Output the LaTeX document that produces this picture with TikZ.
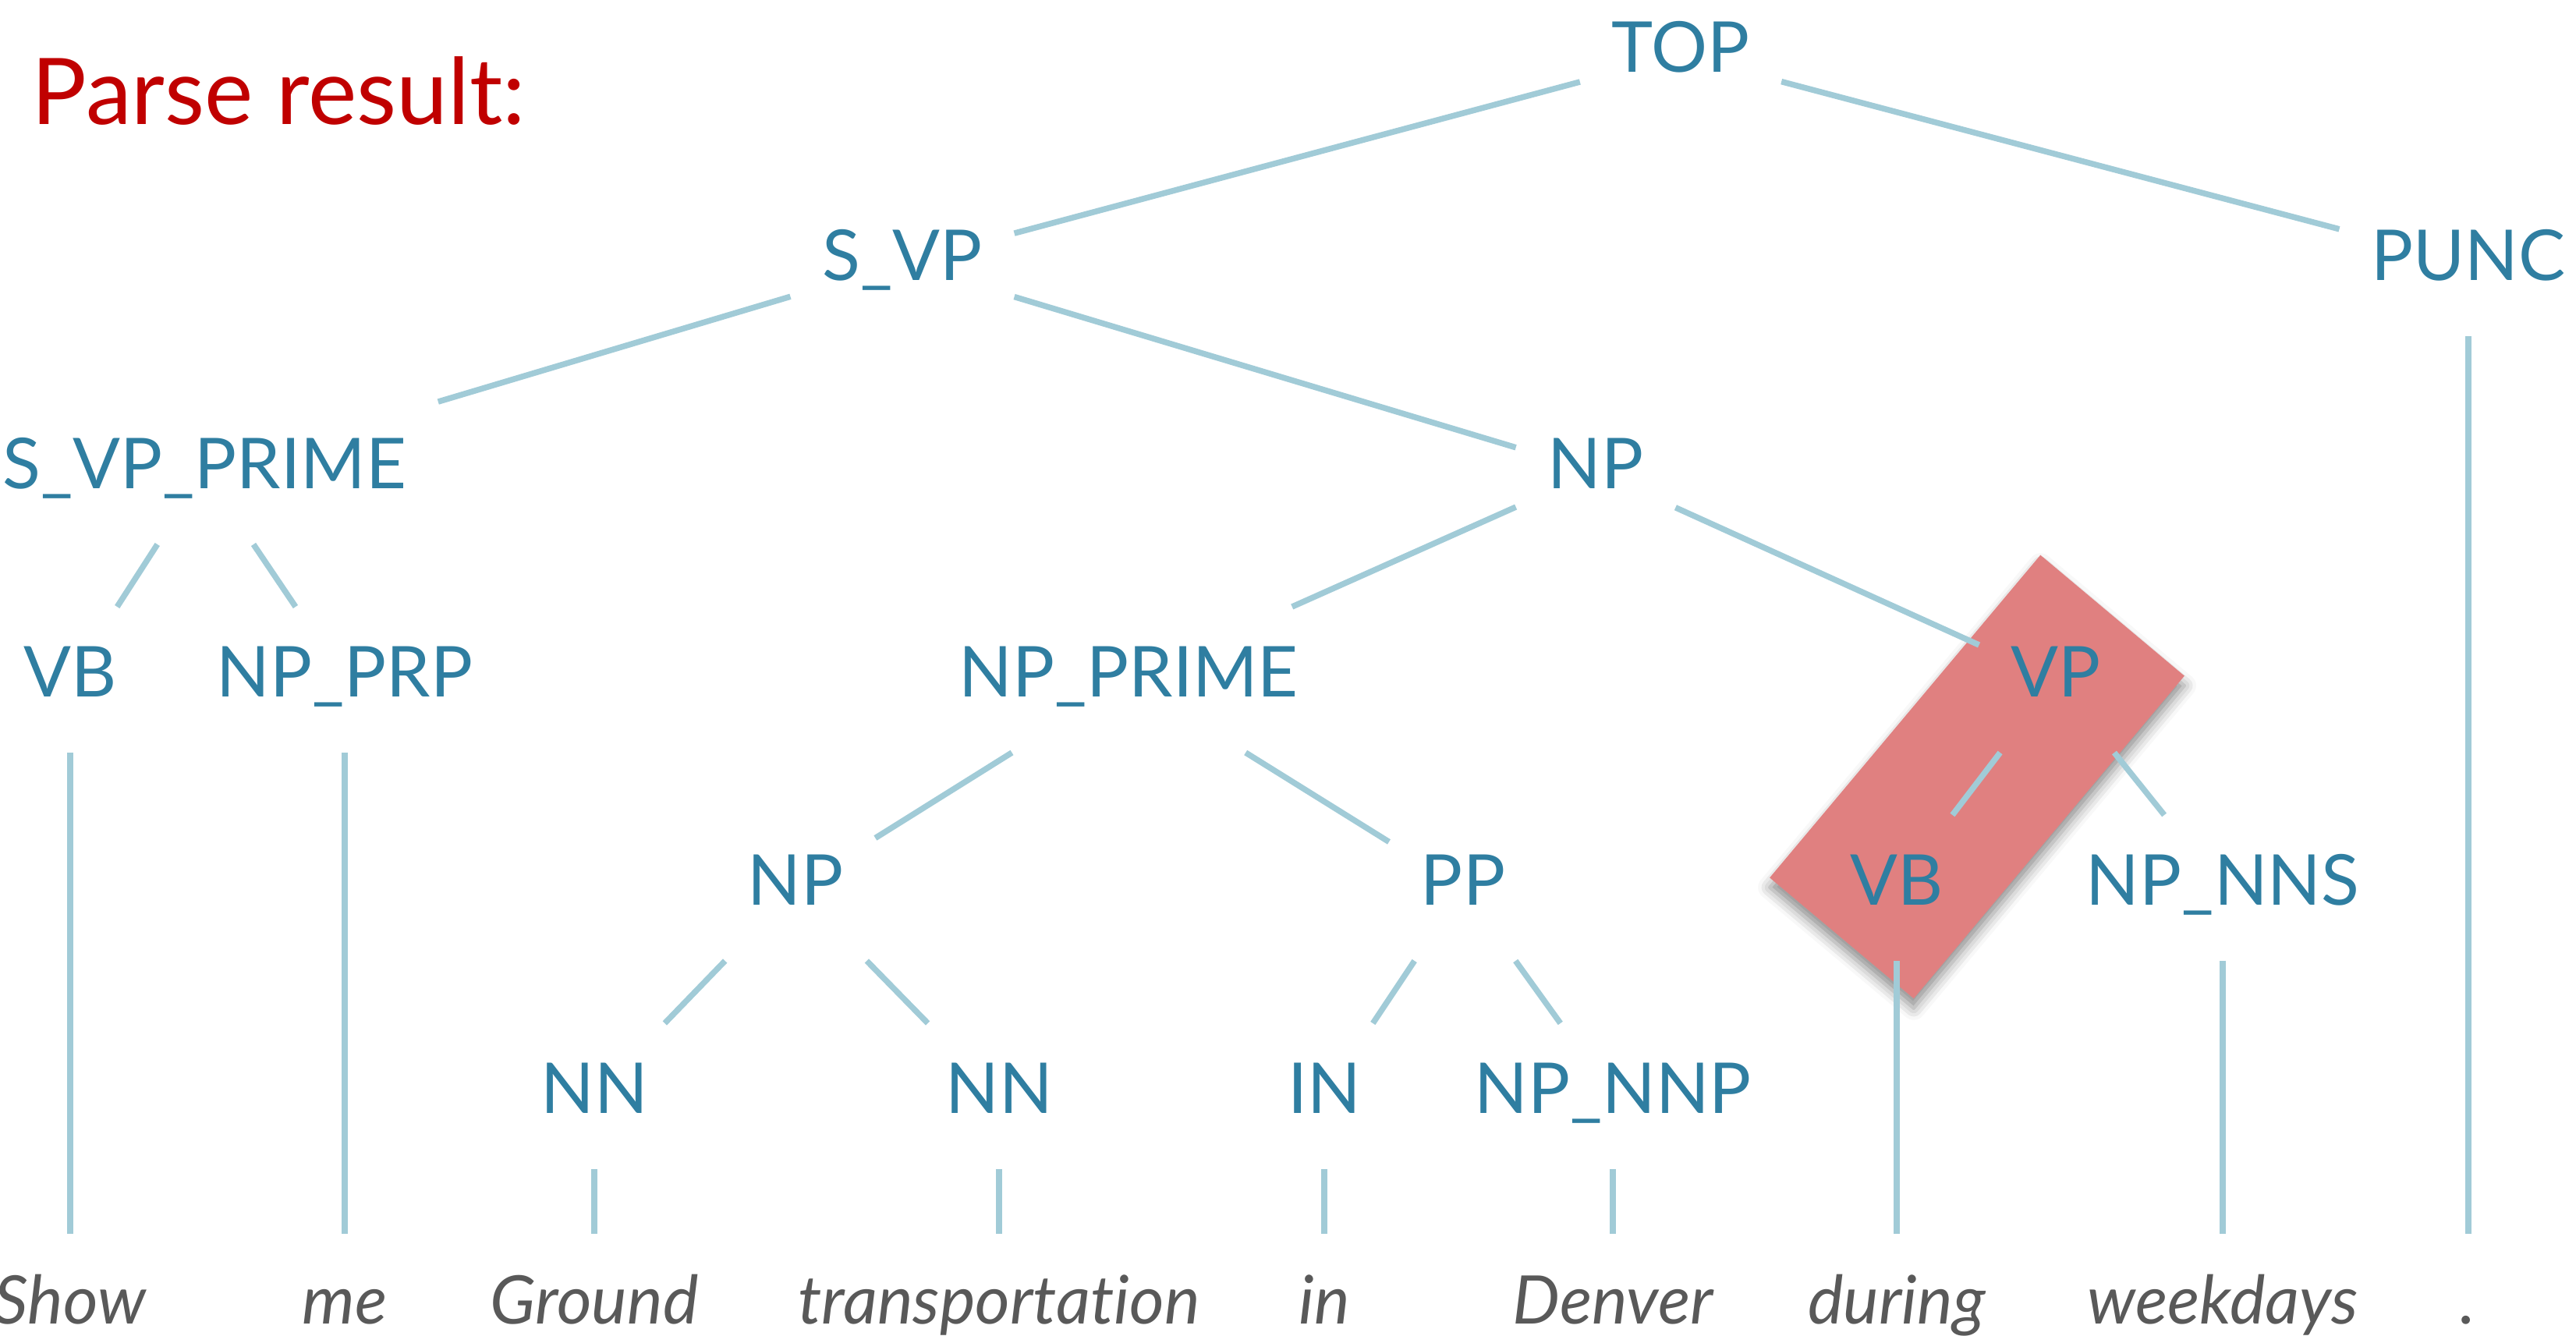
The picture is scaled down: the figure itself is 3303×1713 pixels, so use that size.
\documentclass[tikz,border=0pt]{standalone}
\usepackage{fontspec}
\setmainfont{Lato}[Ligatures=NoCommon]
\usetikzlibrary{shadows.blur}
\definecolor{tagblue}{HTML}{2F7EA1}
\definecolor{edgeblue}{HTML}{A1CBD7}
\definecolor{wordgray}{HTML}{595959}
\definecolor{titlered}{HTML}{C00000}
\definecolor{hilitered}{HTML}{E08080}
\tikzset{
      tag/.style={text=tagblue, font=\fontsize{18}{18}\selectfont, anchor=base,
            inner xsep=8pt, inner ysep=0pt, text height=23pt, text depth=14pt},
      word/.style={text=wordgray, font=\itshape\fontsize{17.2}{17.2}\selectfont, anchor=base,
            inner sep=0pt, text height=23pt, text depth=5pt},
      branch/.style={draw=edgeblue, line width=1.5pt},
      title/.style={text=titlered, font=\fontsize{23.6}{23.6}\selectfont, anchor=base west, inner sep=0pt},
      hilite/.style={fill=hilitered, rotate=50, minimum width=108pt, minimum height=48.2pt, inner sep=0pt,
            blur shadow={shadow xshift=0pt, shadow yshift=-2.5pt, shadow blur radius=3pt, shadow opacity=45}},
}
\begin{document}
\begin{tikzpicture}[x=0.2pt, y=-0.2pt]
        \useasboundingbox (0,0) rectangle (3303,1713);
        %

        % Highlighted subtree
        \node[hilite] (hl) at (2535,996) {};

        \node[title] (title) at (40,160) {Parse result:};

        % Draw the tags
        \node[tag] (top) at (2155,93) {TOP};
        \node[tag] (svp) at (1157,360) {S\_VP};
        \node[tag] (punc) at (3165,360) {PUNC};
        \node[tag] (svpp) at (262,627) {S\_VP\_PRIME};
        \node[tag] (np) at (2046,627) {NP};
        \node[tag] (vb) at (90,894) {VB};
        \node[tag] (npprp) at (442,894) {NP\_PRP};
        \node[tag] (npp) at (1447,894) {NP\_PRIME};
        \node[tag] (vp) at (2636,894) {VP};
        \node[tag] (npa) at (1020,1161) {NP};
        \node[tag] (pp) at (1876,1161) {PP};
        \node[tag] (vbb) at (2432,1161) {VB};
        \node[tag] (npnns) at (2850,1161) {NP\_NNS};
        \node[tag] (nna) at (762,1428) {NN};
        \node[tag] (nnb) at (1281,1428) {NN};
        \node[tag] (in) at (1698,1428) {IN};
        \node[tag] (npnnp) at (2068,1428) {NP\_NNP};

        % Draw the words
        \node[word] (show) at (90,1698) {Show};
        \node[word] (me) at (442,1698) {me};
        \node[word] (ground) at (762,1698) {Ground};
        \node[word] (transp) at (1281,1698) {transportation};
        \node[word] (inw) at (1698,1698) {in};
        \node[word] (denver) at (2068,1698) {Denver};
        \node[word] (during) at (2432,1698) {during};
        \node[word] (weekdays) at (2850,1698) {weekdays};
        \node[word] (dot) at (3165,1698) {.};

        % Draw the branches
        \draw[branch] (top) -- (svp);
        \draw[branch] (top) -- (punc);
        \draw[branch] (svp) -- (svpp);
        \draw[branch] (svp) -- (np);
        \draw[branch] (svpp) -- (vb);
        \draw[branch] (svpp) -- (npprp);
        \draw[branch] (np) -- (npp);
        \draw[branch] (np) -- (vp);
        \draw[branch] (npp) -- (npa);
        \draw[branch] (npp) -- (pp);
        \draw[branch] (vp) -- (vbb);
        \draw[branch] (vp) -- (npnns);
        \draw[branch] (npa) -- (nna);
        \draw[branch] (npa) -- (nnb);
        \draw[branch] (pp) -- (in);
        \draw[branch] (pp) -- (npnnp);

        \draw[branch] (vb) -- (show);
        \draw[branch] (npprp) -- (me);
        \draw[branch] (nna) -- (ground);
        \draw[branch] (nnb) -- (transp);
        \draw[branch] (in) -- (inw);
        \draw[branch] (npnnp) -- (denver);
        \draw[branch] (vbb) -- (during);
        \draw[branch] (npnns) -- (weekdays);
        \draw[branch] (punc) -- (dot);

    \end{tikzpicture}
\end{document}
